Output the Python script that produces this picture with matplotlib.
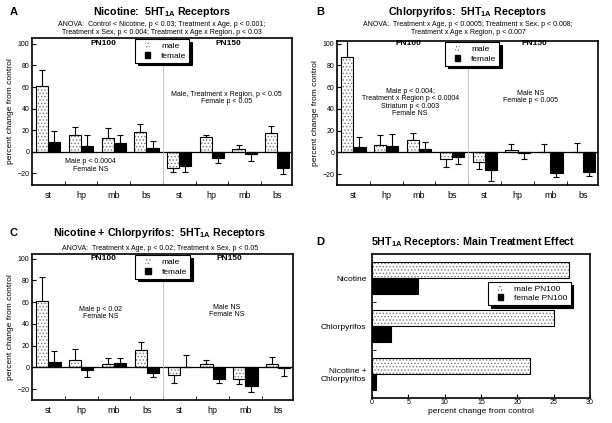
import matplotlib.pyplot as plt
import numpy as np
from matplotlib.legend_handler import HandlerPatch

plt.rcParams['font.family'] = ['Liberation Sans', 'DejaVu Sans']
plt.rcParams['mathtext.fontset'] = 'custom'
plt.rcParams['mathtext.rm'] = 'Liberation Sans'
plt.rcParams['mathtext.bf'] = 'Liberation Sans:bold'
plt.rcParams['hatch.linewidth'] = 0.6

regions = ['st', 'hp', 'mb', 'bs', 'st', 'hp', 'mb', 'bs']

# panel A: nicotine
nic_male = [61, 15, 13, 18, -15, 14, 2, 17]
nic_male_sem = [15, 8, 9, 8, 4, 1, 4, 7]
nic_female = [9, 5, 8, 3, -13, -6, -2, -15]
nic_female_sem = [10, 10, 7, 7, 6, 5, 7, 6]

# panel B: chlorpyrifos
cpf_male = [88, 7, 11, -6, -9, 2, 0.3, 0.3]
cpf_male_sem = [15, 9, 7, 7, 6, 6, 7, 8]
cpf_female = [5, 6, 3, -4, -16, -1, -19, -18]
cpf_female_sem = [9, 11, 7, 7, 10, 5, 4, 4]

# panel C: nicotine + chlorpyrifos
both_male = [61, 7, 3, 16, -7, 3, -11, 3]
both_male_sem = [22, 10, 6, 7, 7, 4, 4, 7]
both_female = [5, -2, 4, -5, 0.3, -11, -17, -0.3]
both_female_sem = [10, 7, 5, 4, 11, 3, 6, 8]

# panel D: main treatment effect
treatments = ['Nicotine', 'Chlorpyrifos', 'Nicotine +\nChlorpyrifos']
main_male = [27.1, 25.1, 21.8]
main_female = [6.3, 2.6, 0.5]

W, H = 612, 423
fig = plt.figure(figsize=(6.12, 4.23), dpi=100)

STIP = dict(facecolor='white', edgecolor='#777777', hatch='.....')


def box(l, t, r, b):
    return [l / W, 1 - b / H, (r - l) / W, (b - t) / H]


def ftext(x, y, s, **kw):
    fig.text(x / W, 1 - y / H, s, ha='center', va='center', **kw)


def small_square(legend, orig_handle, xdescent, ydescent, width, height, fontsize):
    # square handle pushed to the right end of the handle box
    return plt.Rectangle((width - height - xdescent, -ydescent), height, height)


def add_legend(ax, labels, xy):
    h1 = plt.Rectangle((0, 0), 1, 1, lw=0, **STIP)
    h2 = plt.Rectangle((0, 0), 1, 1, facecolor='black', edgecolor='black')
    leg = ax.legend([h1, h2], labels, loc='upper left', bbox_to_anchor=xy,
                    fontsize=6, fancybox=False, handlelength=1.5, handleheight=0.7,
                    handletextpad=1.3, borderpad=0.35, labelspacing=0.2, borderaxespad=0,
                    handler_map={plt.Rectangle: HandlerPatch(patch_func=small_square)},
                    shadow={'color': 'black', 'alpha': 1, 'ox': 2, 'oy': -2})
    leg.get_frame().set_edgecolor('black')
    leg.get_frame().set_linewidth(0.8)
    leg.get_frame().set_alpha(1)


def male_bars(ax, x, h, horiz=False):
    # stippled male bars: hatch layer + black outline
    if horiz:
        ax.barh(x, h, 0.34, linewidth=0, **STIP)
        ax.barh(x, h, 0.34, fill=False, edgecolor='black', linewidth=0.8)
    else:
        ax.bar(x, h, 0.37, linewidth=0, **STIP)
        ax.bar(x, h, 0.37, fill=False, edgecolor='black', linewidth=0.8)


def region_panel(rect, male, msem, female, fsem, ylim, leg_xy, notes):
    ax = fig.add_axes(rect)
    x = np.arange(8)
    m = np.array(male, float)
    f = np.array(female, float)
    male_bars(ax, x - 0.185, m)
    ax.bar(x + 0.185, f, 0.37, color='black', edgecolor='black', linewidth=0.8)
    for xs, v, e in [(x - 0.185, m, np.array(msem)), (x + 0.185, f, np.array(fsem))]:
        lo = np.where(v < 0, e, 0)
        hi = np.where(v >= 0, e, 0)
        ax.errorbar(xs, v, yerr=[lo, hi], fmt='none', ecolor='black',
                    elinewidth=0.8, capsize=2.2, capthick=0.8)
    ax.axhline(0, color='black', lw=0.9)
    ax.axvline(3.5, color='#bbbbbb', lw=0.6)
    ax.set_xlim(-0.5, 7.45)
    ax.set_ylim(*ylim)
    ax.set_xticks(x)
    ax.set_xticklabels(regions, fontsize=6.5)
    ax.set_xticks(np.arange(0.5, 7, 1), minor=True)
    ax.tick_params(axis='x', which='major', length=0, pad=4)
    ax.tick_params(axis='x', which='minor', direction='in', length=3)
    ax.set_yticks([-20, 0, 20, 40, 60, 80, 100])
    ax.tick_params(axis='y', direction='in', length=3, labelsize=5, pad=2)
    ax.set_ylabel('percent change from control', fontsize=6, labelpad=2)
    for s in ax.spines.values():
        s.set_linewidth(1.2)
    ax.text(1.67, 100, 'PN100', fontsize=6, fontweight='bold', ha='center', va='center')
    ax.text(5.5, 100, 'PN150', fontsize=6, fontweight='bold', ha='center', va='center')
    for nx, ny, s in notes:
        ax.text(nx, ny, s, fontsize=5, ha='center', va='center', linespacing=1.05)
    add_legend(ax, ['male', 'female'], leg_xy)
    return ax


title_kw = dict(fontsize=7.7, fontweight='bold')
sub_kw = dict(fontsize=5)
sub = r'5HT$_{\mathbf{1A}}$'

# A
region_panel(box(32, 38, 292, 185), nic_male, nic_male_sem, nic_female, nic_female_sem,
             (-31, 105.5), (0.396, 0.99),
             [(1.3, -13, 'Male p < 0.0004\nFemale NS'),
              (5.45, 50, 'Male, Treatment x Region, p < 0.05\nFemale p < 0.05')])
ftext(14, 12, 'A', fontsize=8, fontweight='bold')
ftext(162, 12, 'Nicotine:  ' + sub + ' Receptors', **title_kw)
ftext(162, 24, 'ANOVA:  Control < Nicotine, p < 0.03; Treatment x Age, p < 0.001;', **sub_kw)
ftext(162, 32, 'Treatment x Sex, p < 0.004; Treatment x Age x Region, p < 0.03', **sub_kw)

# B
region_panel(box(337, 41, 598, 185), cpf_male, cpf_male_sem, cpf_female, cpf_female_sem,
             (-30, 102.5), (0.414, 0.99),
             [(1.73, 46, 'Male p < 0.004;\nTreatment x Region p < 0.0004\nStriatum p < 0.003\nFemale NS'),
              (5.4, 51, 'Male NS\nFemale p < 0.005')])
ftext(320, 12, 'B', fontsize=8, fontweight='bold')
ftext(468, 12, 'Chlorpyrifos:  ' + sub + ' Receptors', **title_kw)
ftext(468, 24, 'ANOVA:  Treatment x Age, p < 0.0005; Treatment x Sex, p < 0.008;', **sub_kw)
ftext(468, 32, 'Treatment x Age x Region, p < 0.007', **sub_kw)

# C
region_panel(box(32, 254, 293, 400), both_male, both_male_sem, both_female, both_female_sem,
             (-30, 104.3), (0.396, 0.99),
             [(1.58, 50, 'Male p < 0.02\nFemale NS'),
              (5.42, 52, 'Male NS\nFemale NS')])
ftext(14, 233, 'C', fontsize=8, fontweight='bold')
ftext(160, 233, 'Nicotine + Chlorpyrifos:  ' + sub + ' Receptors', **title_kw)
ftext(160, 248, 'ANOVA:  Treatment x Age, p < 0.02; Treatment x Sex, p < 0.05', **sub_kw)

# D
axd = fig.add_axes(box(372, 254, 590, 398))
y = np.arange(3)
male_bars(axd, y - 0.17, main_male, horiz=True)
axd.barh(y + 0.17, main_female, 0.34, color='black', edgecolor='black', linewidth=0.8)
axd.set_ylim(2.5, -0.5)
axd.set_xlim(0, 30)
axd.set_yticks(y)
axd.set_yticklabels(treatments, fontsize=6, linespacing=1.1)
axd.set_yticks([0.5, 1.5], minor=True)
axd.tick_params(axis='y', which='major', length=0, pad=4)
axd.tick_params(axis='y', which='minor', direction='in', length=3)
axd.set_xticks([0, 5, 10, 15, 20, 25, 30])
axd.tick_params(axis='x', direction='in', length=3, labelsize=5, pad=1)
axd.set_xlabel('percent change from control', fontsize=6, labelpad=1)
for s in axd.spines.values():
    s.set_linewidth(1.2)
add_legend(axd, ['male PN100', 'female PN100'], (0.532, 0.806))
ftext(320, 242, 'D', fontsize=8, fontweight='bold')
ftext(473, 242, sub + ' Receptors: Main Treatment Effect', **title_kw)

plt.savefig('out.png', dpi=100)
